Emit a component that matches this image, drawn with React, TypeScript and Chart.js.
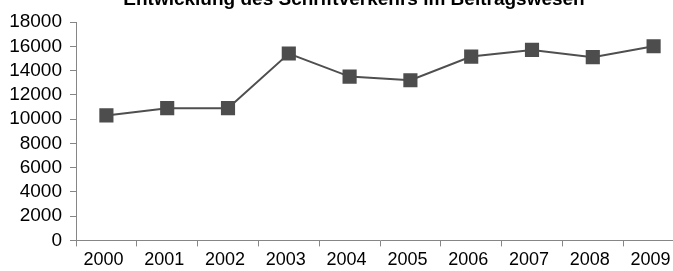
import React, { useEffect, useRef } from "react";
import { Chart, registerables } from "chart.js";

Chart.register(...registerables);

const title = "Entwicklung des Schriftverkehrs im Beitragswesen";
const years = ["2000", "2001", "2002", "2003", "2004", "2005", "2006", "2007", "2008", "2009"];
const letters = [10300, 10900, 10900, 15400, 13500, 13200, 15150, 15700, 15100, 16000];
const yMin = 0;
const yMax = 18000;
const yStep = 2000;

const FAMILY = "'Liberation Sans', Arial, sans-serif";

const titlePlugin = {
  id: "centeredTitle",
  afterDraw(chart: any) {
    const ctx = chart.ctx;
    ctx.save();
    ctx.fillStyle = "#000";
    ctx.font = `bold 19px ${FAMILY}`;
    ctx.textAlign = "center";
    ctx.textBaseline = "middle";
    ctx.fillText(title, chart.width / 2, 11.4);
    ctx.restore();
  },
};

export default function App() {
  const ref = useRef<HTMLCanvasElement | null>(null);
  useEffect(() => {
    if (!ref.current) return;
    const chart = new Chart(ref.current, {
      type: "line",
      data: {
        labels: years,
        datasets: [
          {
            data: letters,
            borderColor: "#4f4f4f",
            borderWidth: 2,
            backgroundColor: "#4d4d4d",
            pointStyle: "rect",
            pointRadius: 10,
            pointBorderWidth: 0,
            pointBackgroundColor: "#4d4d4d",
            tension: 0,
          },
        ],
      },
      plugins: [titlePlugin],
      options: {
        animation: false,
        responsive: true,
        maintainAspectRatio: false,
        layout: { padding: { left: 0, right: 24, top: 34, bottom: 0 } },
        plugins: {
          legend: { display: false },
          tooltip: { enabled: false },
          title: { display: false },
        },
        scales: {
          x: {
            offset: true,
            grid: { offset: true, drawOnChartArea: false, drawTicks: true, tickLength: 6, color: "#868686" },
            border: { display: true, color: "#868686", width: 1 },
            ticks: {
              color: "#000",
              font: { family: FAMILY, size: 18 },
              padding: 3,
              labelOffset: -3,
              maxRotation: 0,
              autoSkip: false,
            },
          },
          y: {
            min: yMin,
            max: yMax,
            grid: { drawOnChartArea: false, drawTicks: true, tickLength: 6, color: "#868686" },
            border: { display: true, color: "#868686", width: 1 },
            ticks: {
              color: "#000",
              font: { family: FAMILY, size: 19 },
              stepSize: yStep,
              padding: 8,
              autoSkip: false,
              callback: (v: any) => String(v),
            },
            afterFit: (s: any) => {
              s.width = 76;
            },
          },
        },
      },
    });
    return () => chart.destroy();
  }, []);
  return (
    <div style={{ position: "fixed", left: 0, top: 0, width: 673, height: 271, overflow: "hidden", background: "#fff" }}>
      <div style={{ position: "absolute", left: 0, top: -12, width: 708, height: 286 }}>
        <canvas ref={ref} />
      </div>
    </div>
  );
}
